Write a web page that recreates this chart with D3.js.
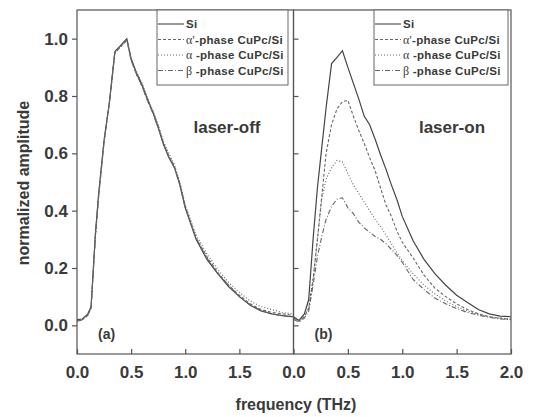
<!DOCTYPE html>
<html>
<head>
<meta charset="utf-8">
<script src="https://cdn.jsdelivr.net/npm/d3@7"></script>
<style>
body { margin:0; background:#fff; }
text { font-family: "Liberation Sans", Arial, sans-serif; fill:#3a3a3a; }
</style>
</head>
<body>
<script>
// frequency grids (THz)
var freqOff = [0, 0.05, 0.1, 0.13, 0.17, 0.2, 0.25, 0.3, 0.35, 0.4, 0.46, 0.5, 0.55, 0.6, 0.65, 0.7, 0.75, 0.8, 0.85, 0.9, 0.95, 1.0, 1.1, 1.2, 1.3, 1.4, 1.5, 1.6, 1.7, 1.8, 1.9, 2.0];
var freqOn = [0, 0.05, 0.1, 0.14, 0.18, 0.22, 0.26, 0.3, 0.35, 0.4, 0.45, 0.5, 0.55, 0.6, 0.65, 0.7, 0.75, 0.8, 0.85, 0.9, 0.95, 1.0, 1.1, 1.2, 1.3, 1.4, 1.5, 1.6, 1.7, 1.8, 1.9, 2.0];

// (a) laser-off
var siOff    = [0.02, 0.022, 0.04, 0.065, 0.32, 0.46, 0.645, 0.78, 0.955, 0.975, 1.0, 0.93, 0.88, 0.84, 0.79, 0.745, 0.69, 0.63, 0.585, 0.55, 0.49, 0.41, 0.30, 0.23, 0.18, 0.135, 0.10, 0.07, 0.05, 0.04, 0.034, 0.03];
var alphaPOff = [0.015, 0.02, 0.035, 0.06, 0.31, 0.45, 0.64, 0.78, 0.95, 0.97, 0.995, 0.925, 0.875, 0.835, 0.785, 0.745, 0.695, 0.635, 0.59, 0.555, 0.495, 0.415, 0.305, 0.24, 0.185, 0.14, 0.105, 0.075, 0.055, 0.045, 0.04, 0.035];
var alphaOff = [0.018, 0.02, 0.038, 0.062, 0.315, 0.455, 0.64, 0.775, 0.95, 0.97, 0.995, 0.93, 0.885, 0.845, 0.795, 0.75, 0.70, 0.64, 0.60, 0.56, 0.50, 0.42, 0.315, 0.25, 0.195, 0.15, 0.115, 0.085, 0.065, 0.055, 0.045, 0.04];
var betaOff  = [0.015, 0.018, 0.036, 0.06, 0.31, 0.45, 0.64, 0.78, 0.955, 0.975, 1.0, 0.925, 0.875, 0.835, 0.785, 0.74, 0.69, 0.63, 0.585, 0.55, 0.49, 0.41, 0.305, 0.235, 0.18, 0.14, 0.10, 0.072, 0.052, 0.04, 0.033, 0.028];

// (b) laser-on
var siOn     = [0.03, 0.017, 0.04, 0.09, 0.30, 0.48, 0.62, 0.76, 0.913, 0.935, 0.958, 0.90, 0.845, 0.79, 0.73, 0.70, 0.65, 0.595, 0.545, 0.49, 0.44, 0.38, 0.295, 0.23, 0.18, 0.14, 0.105, 0.08, 0.055, 0.04, 0.032, 0.03];
var alphaPOn = [0.025, 0.015, 0.03, 0.06, 0.16, 0.30, 0.45, 0.60, 0.70, 0.755, 0.78, 0.785, 0.73, 0.68, 0.635, 0.585, 0.54, 0.48, 0.42, 0.38, 0.33, 0.29, 0.235, 0.175, 0.13, 0.10, 0.075, 0.055, 0.04, 0.03, 0.025, 0.02];
var alphaOn  = [0.025, 0.015, 0.03, 0.06, 0.16, 0.30, 0.44, 0.51, 0.55, 0.575, 0.57, 0.53, 0.49, 0.46, 0.43, 0.40, 0.37, 0.345, 0.315, 0.285, 0.255, 0.226, 0.18, 0.14, 0.11, 0.085, 0.065, 0.05, 0.038, 0.03, 0.025, 0.022];
var betaOn   = [0.02, 0.012, 0.025, 0.05, 0.14, 0.24, 0.31, 0.37, 0.415, 0.44, 0.445, 0.41, 0.39, 0.36, 0.34, 0.325, 0.31, 0.30, 0.285, 0.265, 0.245, 0.22, 0.16, 0.125, 0.095, 0.075, 0.058, 0.045, 0.035, 0.028, 0.022, 0.02];

var seriesNames = ["Si", "\u03b1'", "\u03b1 ", "\u03b2 "];
var dashes = [null, "3,2", "1,2", "5,2,1,2"];
var xTicks = [0, 0.5, 1.0, 1.5, 2.0];
var yTicks = [0, 0.2, 0.4, 0.6, 0.8, 1.0];

var width = 535, height = 417;
var plotTop = 10, plotBottom = 354;

var svg = d3.select("body").append("svg")
	.attr("width", width)
	.attr("height", height);

var y = d3.scaleLinear().domain([-0.1, 1.1]).range([plotBottom, plotTop]);

var panels = [
	{x: d3.scaleLinear().domain([0, 2]).range([77, 293.5]), freq: freqOff, data: [siOff, alphaPOff, alphaOff, betaOff],
	 title: "laser-off", tag: "(a)", ticks: [0, 0.5, 1.0, 1.5], leftTicksOut: true, legendX: 157, legendW: 131, titleX: 227},
	{x: d3.scaleLinear().domain([0, 2]).range([293.5, 511]), freq: freqOn, data: [siOn, alphaPOn, alphaOn, betaOn],
	 title: "laser-on", tag: "(b)", ticks: xTicks, leftTicksOut: false, legendX: 374, legendW: 134, titleX: 452}
];

panels.forEach(function(p){
	var x = p.x;
	var g = svg.append("g");

	var line = d3.line()
		.x(function(d){ return x(d[0]); })
		.y(function(d){ return y(d[1]); });

	// curves
	p.data.forEach(function(vals, i){
		g.append("path")
			.datum(p.freq.map(function(f, k){ return [f, vals[k]]; }))
			.attr("d", line)
			.attr("fill", "none")
			.attr("stroke", i == 0 ? "#444" : "#666")
			.attr("stroke-width", i == 0 ? 1.2 : 1.1)
			.attr("stroke-dasharray", dashes[i]);
	});

	// frame
	g.append("rect")
		.attr("x", x.range()[0]).attr("y", plotTop)
		.attr("width", x.range()[1] - x.range()[0]).attr("height", plotBottom - plotTop)
		.attr("fill", "none").attr("stroke", "#555").attr("stroke-width", 1.2);

	// x axis (ticks inward)
	var xa = g.append("g")
		.attr("transform", "translate(0," + plotBottom + ")")
		.call(d3.axisBottom(x).tickValues(p.ticks).tickSize(-5).tickPadding(12).tickFormat(d3.format(".1f")));
	xa.select(".domain").remove();
	xa.selectAll("line").attr("stroke", "#555").attr("stroke-width", 1.2);
	xa.selectAll("text")
		.attr("font-size", 17).attr("font-weight", "bold")
		.attr("font-family", "Liberation Sans, Arial, sans-serif").attr("fill", "#444");

	// y axis
	var ya = g.append("g")
		.attr("transform", "translate(" + x.range()[0] + ",0)")
		.call(d3.axisLeft(y).tickValues(yTicks).tickSize(p.leftTicksOut ? 5 : -5).tickPadding(4)
			.tickFormat(p.leftTicksOut ? d3.format(".1f") : ""));
	ya.select(".domain").remove();
	ya.selectAll("line").attr("stroke", "#555").attr("stroke-width", 1.2);
	ya.selectAll("text")
		.attr("font-size", 17).attr("font-weight", "bold")
		.attr("font-family", "Liberation Sans, Arial, sans-serif").attr("fill", "#444");

	// labels inside plot
	g.append("text")
		.attr("x", p.titleX).attr("y", 133)
		.attr("text-anchor", "middle")
		.attr("font-size", 17).attr("font-weight", "bold")
		.text(p.title);
	g.append("text")
		.attr("x", x.range()[0] + 21).attr("y", 339)
		.attr("font-size", 14).attr("font-weight", "bold")
		.text(p.tag);

	// legend
	var lg = g.append("g");
	lg.append("rect")
		.attr("x", p.legendX).attr("y", plotTop)
		.attr("width", p.legendW).attr("height", 75)
		.attr("fill", "#fff").attr("stroke", "#666").attr("stroke-width", 1);
	seriesNames.forEach(function(name, i){
		var ly = 24 + i * 15.5;
		lg.append("line")
			.attr("x1", p.legendX + 1).attr("x2", p.legendX + 27)
			.attr("y1", ly).attr("y2", ly)
			.attr("stroke", i == 0 ? "#444" : "#666").attr("stroke-width", 1.1)
			.attr("stroke-dasharray", dashes[i]);
		var t = lg.append("text")
			.attr("x", p.legendX + 29).attr("y", ly + 4)
			.attr("font-size", 11.5).attr("font-weight", "bold")
			.attr("letter-spacing", 0.3);
		if (i == 0){
			t.text("Si");
		} else {
			t.append("tspan")
				.attr("font-family", "Liberation Serif, serif").attr("font-weight", "normal").attr("font-size", 12)
				.text(name);
			t.append("tspan").text("-phase CuPc/Si");
		}
	});
});

// axis titles
svg.append("text")
	.attr("transform", "translate(29,183) rotate(-90)")
	.attr("text-anchor", "middle")
	.attr("font-size", 16).attr("font-weight", "bold")
	.text("normalized amplitude");

svg.append("text")
	.attr("x", 296).attr("y", 410)
	.attr("text-anchor", "middle")
	.attr("font-size", 16).attr("font-weight", "bold")
	.text("frequency (THz)");
</script>
</body>
</html>
